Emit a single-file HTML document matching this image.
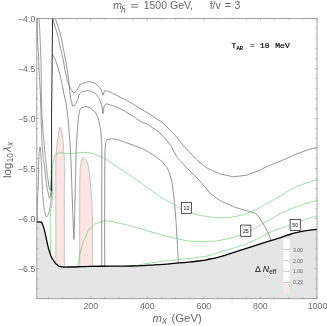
<!DOCTYPE html>
<html><head><meta charset="utf-8"><title>plot</title>
<style>html,body{margin:0;padding:0;background:#fff}body{width:327px;height:326px;overflow:hidden;font-family:"Liberation Sans",sans-serif}</style></head>
<body>
<svg width="327" height="326" viewBox="0 0 327 326" style="display:block">
<defs><filter id="gs" x="0" y="0" width="327" height="326" filterUnits="userSpaceOnUse" color-interpolation-filters="sRGB"><feColorMatrix type="saturate" values="0"/></filter></defs>
<rect width="327" height="326" fill="#fff"/>
<path d="M55.90 267.00 C55.87 244.67 55.83 232.33 55.80 200.00 C55.77 167.67 55.60 186.43 55.80 170.00 C56.00 153.57 55.53 162.27 56.40 150.70 C57.27 139.13 57.33 142.37 58.40 135.30 C59.47 128.23 58.93 132.07 59.60 129.50 C60.27 126.93 59.87 127.60 60.40 127.60 C60.93 127.60 60.57 126.93 61.20 129.50 C61.83 132.07 61.43 128.23 62.30 135.30 C63.17 142.37 63.10 139.13 63.80 150.70 C64.50 162.27 64.23 153.57 64.40 170.00 C64.57 186.43 64.33 167.60 64.30 200.00 C64.27 232.40 64.30 244.80 64.30 267.20 Z" fill="#fbe6e4" stroke="#8a7f7f" stroke-width="0.45"/>
<path d="M79.70 267.00 C79.70 244.67 79.60 230.67 79.70 200.00 C79.80 169.33 79.67 186.67 80.00 175.00 C80.33 163.33 80.03 170.17 80.70 165.00 C81.37 159.83 81.03 161.83 82.00 159.50 C82.97 157.17 82.43 158.00 83.60 158.00 C84.77 158.00 84.23 157.87 85.50 159.50 C86.77 161.13 86.17 158.73 87.40 162.90 C88.63 167.07 88.00 162.80 89.20 172.00 C90.40 181.20 90.00 177.83 91.00 190.50 C92.00 203.17 91.70 193.50 92.20 210.00 C92.70 226.50 92.37 221.13 92.50 240.00 C92.63 258.87 92.57 257.73 92.60 266.60 Z" fill="#fbe6e4" stroke="#8a7f7f" stroke-width="0.45"/>
<path d="M36.80 222.10 C38.07 222.10 38.73 221.40 40.60 222.10 C42.47 222.80 41.03 221.13 42.40 224.20 C43.77 227.27 43.00 224.63 44.70 231.30 C46.40 237.97 45.97 237.63 47.50 244.20 C49.03 250.77 48.13 247.07 49.30 251.00 C50.47 254.93 49.43 252.60 51.00 256.00 C52.57 259.40 52.00 258.33 54.00 261.20 C56.00 264.07 54.57 262.80 57.00 264.60 C59.43 266.40 56.97 265.80 61.30 266.60 C65.63 267.40 60.43 267.07 70.00 267.00 C79.57 266.93 76.67 266.67 90.00 266.40 C103.33 266.13 96.67 266.33 110.00 266.20 C123.33 266.07 115.17 266.43 130.00 266.00 C144.83 265.57 138.17 265.93 154.50 264.90 C170.83 263.87 164.27 264.20 179.00 262.90 C193.73 261.60 188.37 262.30 198.70 261.00 C209.03 259.70 203.03 260.40 210.00 259.00 C216.97 257.60 209.83 259.60 219.60 256.80 C229.37 254.00 226.20 254.73 239.30 250.60 C252.40 246.47 248.17 247.80 258.90 244.40 C269.63 241.00 264.47 242.57 271.50 240.40 C278.53 238.23 273.43 240.03 280.00 237.90 C286.57 235.77 282.87 236.33 291.20 234.00 C299.53 231.67 296.40 232.47 305.00 230.90 C313.60 229.33 313.00 229.83 317.00 229.30 L317 298.7 L36.8 298.7 Z" fill="#e5e5e5"/>
<path d="M52.90 18.50 C53.43 20.67 52.93 19.50 54.50 25.00 C56.07 30.50 55.77 28.00 57.60 35.00 C59.43 42.00 58.13 37.67 60.00 46.00 C61.87 54.33 61.20 50.33 63.20 60.00 C65.20 69.67 64.23 67.13 66.00 75.00 C67.77 82.87 66.43 78.27 68.50 83.60 C70.57 88.93 70.23 88.07 72.20 91.00 C74.17 93.93 72.57 93.03 74.40 92.40 C76.23 91.77 75.77 91.63 77.70 89.10 C79.63 86.57 77.53 86.97 80.20 84.80 C82.87 82.63 82.70 83.60 85.70 82.60 C88.70 81.60 86.77 81.80 89.20 81.80 C91.63 81.80 90.40 81.53 93.00 82.60 C95.60 83.67 94.50 82.87 97.00 85.00 C99.50 87.13 98.70 86.33 100.50 89.00 C102.30 91.67 101.57 90.90 102.40 93.00 C103.23 95.10 102.80 94.53 103.00 95.30" fill="none" stroke="#4d4d4d" stroke-width="0.62"/>
<path d="M103.00 95.30 C103.27 94.47 102.87 94.23 103.80 92.80 C104.73 91.37 103.73 91.23 105.80 91.00 C107.87 90.77 105.27 90.07 110.00 92.10 C114.73 94.13 113.33 93.70 120.00 97.10 C126.67 100.50 122.67 98.13 130.00 102.30 C137.33 106.47 133.83 104.60 142.00 109.60 C150.17 114.60 145.40 110.73 154.50 117.30 C163.60 123.87 158.67 118.77 169.30 129.30 C179.93 139.83 177.00 138.67 186.40 148.90 C195.80 159.13 192.57 155.10 197.50 160.00 C202.43 164.90 196.27 160.10 201.20 163.60 C206.13 167.10 203.70 166.57 212.30 170.50 C220.90 174.43 218.00 173.53 227.00 175.40 C236.00 177.27 230.30 177.10 239.30 176.10 C248.30 175.10 244.20 175.83 254.00 172.40 C263.80 168.97 259.57 169.70 268.70 165.80 C277.83 161.90 270.63 165.20 281.40 160.70 C292.17 156.20 289.13 156.73 301.00 152.30 C312.87 147.87 311.67 149.03 317.00 147.40" fill="none" stroke="#4d4d4d" stroke-width="0.62"/>
<path d="M55.20 18.50 C55.97 20.67 55.77 19.73 57.50 25.00 C59.23 30.27 58.63 27.30 60.40 34.30 C62.17 41.30 61.10 37.43 62.80 46.00 C64.50 54.57 63.77 50.33 65.50 60.00 C67.23 69.67 66.63 65.10 68.00 75.00 C69.37 84.90 68.43 80.70 69.60 89.70 C70.77 98.70 70.03 96.77 71.50 102.00 C72.97 107.23 71.93 106.23 74.00 105.40 C76.07 104.57 75.63 103.50 77.70 99.50 C79.77 95.50 77.53 96.23 80.20 93.40 C82.87 90.57 82.60 91.80 85.70 91.00 C88.80 90.20 86.90 90.50 89.50 91.00 C92.10 91.50 90.83 90.83 93.50 92.50 C96.17 94.17 95.17 92.83 97.50 96.00 C99.83 99.17 98.90 97.67 100.50 102.00 C102.10 106.33 101.47 105.13 102.30 109.00 C103.13 112.87 102.77 112.07 103.00 113.60" fill="none" stroke="#4d4d4d" stroke-width="0.62"/>
<path d="M103.00 113.60 C103.27 111.73 102.87 111.13 103.80 108.00 C104.73 104.87 103.73 105.20 105.80 104.20 C107.87 103.20 106.33 104.00 110.00 105.00 C113.67 106.00 110.23 104.13 116.80 107.20 C123.37 110.27 121.97 109.60 129.70 114.20 C137.43 118.80 132.53 116.60 140.00 121.00 C147.47 125.40 143.17 120.87 152.10 127.40 C161.03 133.93 158.63 130.97 166.80 140.60 C174.97 150.23 171.70 149.17 176.60 156.30 C181.50 163.43 177.40 157.43 181.50 162.00 C185.60 166.57 183.97 164.93 188.90 170.00 C193.83 175.07 190.97 171.53 196.30 177.20 C201.63 182.87 198.77 180.47 204.90 187.00 C211.03 193.53 206.53 190.87 214.70 196.80 C222.87 202.73 219.97 200.50 229.40 204.80 C238.83 209.10 235.63 207.27 243.00 209.70 C250.37 212.13 246.83 210.33 251.50 212.10 C256.17 213.87 253.73 212.13 257.00 215.00 C260.27 217.87 257.80 215.13 261.30 220.70 C264.80 226.27 264.20 225.13 267.50 231.70 C270.80 238.27 269.97 237.50 271.20 240.40" fill="none" stroke="#4d4d4d" stroke-width="0.62"/>
<path d="M52.30 54.20 C52.87 55.13 52.73 54.40 54.00 57.00 C55.27 59.60 54.17 56.17 56.10 62.00 C58.03 67.83 57.30 64.50 59.80 74.50 C62.30 84.50 61.13 79.50 63.60 92.00 C66.07 104.50 65.30 97.67 67.20 112.00 C69.10 126.33 68.23 122.33 69.30 135.00 C70.37 147.67 69.73 138.33 70.40 150.00 C71.07 161.67 70.67 153.33 71.30 170.00 C71.93 186.67 71.63 181.67 72.30 200.00 C72.97 218.33 72.77 211.90 73.30 225.00 C73.83 238.10 73.70 234.53 73.90 239.30" fill="none" stroke="#4d4d4d" stroke-width="0.62"/>
<path d="M73.90 239.30 C74.07 234.53 74.03 238.10 74.40 225.00 C74.77 211.90 74.57 218.33 75.00 200.00 C75.43 181.67 75.30 186.67 75.70 170.00 C76.10 153.33 75.77 161.67 76.20 150.00 C76.63 138.33 76.37 144.33 77.00 135.00 C77.63 125.67 77.47 128.67 78.10 122.00 C78.73 115.33 78.20 119.20 78.90 115.00 C79.60 110.80 78.77 112.00 80.20 109.40 C81.63 106.80 80.80 108.00 83.20 107.20 C85.60 106.40 84.47 106.23 87.40 107.00 C90.33 107.77 88.93 106.93 92.00 109.50 C95.07 112.07 94.17 109.87 96.60 114.70 C99.03 119.53 97.77 116.63 99.30 124.00 C100.83 131.37 100.37 124.80 101.20 136.80 C102.03 148.80 101.63 138.93 101.80 160.00 C101.97 181.07 101.73 164.60 101.70 200.00 C101.67 235.40 101.70 244.13 101.70 266.20" fill="none" stroke="#4d4d4d" stroke-width="0.62"/>
<path d="M104.70 266.20 C104.70 244.13 104.63 235.40 104.70 200.00 C104.77 164.60 104.67 178.00 104.90 160.00 C105.13 142.00 104.87 152.33 105.40 146.00 C105.93 139.67 105.30 143.23 106.50 141.00 C107.70 138.77 105.57 139.80 109.00 139.30 C112.43 138.80 110.50 138.17 116.80 139.50 C123.10 140.83 120.17 140.53 127.90 143.30 C135.63 146.07 133.57 145.13 140.00 147.80 C146.43 150.47 140.73 147.40 147.20 151.30 C153.67 155.20 153.63 155.10 159.40 159.50 C165.17 163.90 161.63 161.07 164.50 164.50 C167.37 167.93 165.90 165.30 168.00 169.80 C170.10 174.30 169.17 171.47 170.80 178.00 C172.43 184.53 171.37 177.40 172.90 189.40 C174.43 201.40 174.00 197.13 175.40 214.00 C176.80 230.87 176.13 223.67 177.10 240.00 C178.07 256.33 177.90 255.33 178.30 263.00" fill="none" stroke="#4d4d4d" stroke-width="0.62"/>
<path d="M39.10 18.40 C39.53 27.60 39.70 27.47 40.40 46.00 C41.10 64.53 40.83 56.00 41.20 74.00 C41.57 92.00 41.03 83.00 41.50 100.00 C41.97 117.00 41.53 108.33 42.60 125.00 C43.67 141.67 43.47 136.67 44.70 150.00 C45.93 163.33 45.27 155.67 46.30 165.00 C47.33 174.33 46.60 169.80 47.80 178.00 C49.00 186.20 48.83 187.93 49.90 189.60 C50.97 191.27 50.53 189.53 51.00 183.00 C51.47 176.47 51.20 174.33 51.30 170.00" fill="none" stroke="#555" stroke-width="0.6"/>
<path d="M37.30 18.40 C37.37 25.60 37.20 29.47 37.50 40.00 C37.80 50.53 37.83 44.67 38.20 50.00 C38.57 55.33 38.33 49.33 38.60 56.00 C38.87 62.67 38.53 60.00 39.00 70.00 C39.47 80.00 39.47 76.00 40.00 86.00 C40.53 96.00 40.17 87.00 40.60 100.00 C41.03 113.00 40.67 108.33 41.30 125.00 C41.93 141.67 41.50 136.67 42.50 150.00 C43.50 163.33 43.13 155.00 44.30 165.00 C45.47 175.00 44.77 171.00 46.00 180.00 C47.23 189.00 46.73 186.17 48.00 192.00 C49.27 197.83 48.80 198.17 49.80 197.50 C50.80 196.83 50.47 196.50 51.00 190.00 C51.53 183.50 51.27 182.00 51.40 178.00" fill="none" stroke="#555" stroke-width="0.6"/>
<path d="M37.30 222.00 C37.37 214.67 37.17 212.67 37.50 200.00 C37.83 187.33 37.87 197.33 38.30 184.00 C38.73 170.67 38.37 171.33 38.80 160.00 C39.23 148.67 39.17 154.27 39.60 150.00 C40.03 145.73 39.80 147.20 40.10 147.20 C40.40 147.20 40.23 147.07 40.50 150.00 C40.77 152.93 40.57 151.00 40.90 156.00 C41.23 161.00 41.10 157.00 41.50 165.00 C41.90 173.00 41.57 168.67 42.10 180.00 C42.63 191.33 42.13 188.23 43.10 199.00 C44.07 209.77 43.70 206.57 45.00 212.30 C46.30 218.03 45.50 216.97 47.00 216.20 C48.50 215.43 48.10 216.17 49.50 210.00 C50.90 203.83 50.50 206.03 51.20 197.70 C51.90 189.37 51.47 189.23 51.60 185.00" fill="none" stroke="#555" stroke-width="0.6"/>
<path d="M50.80 255.50 C50.70 253.00 50.67 256.50 50.50 248.00 C50.33 239.50 50.30 241.33 50.30 230.00 C50.30 218.67 49.83 224.33 50.50 214.00 C51.17 203.67 51.73 210.33 52.30 199.00 C52.87 187.67 52.20 189.60 52.20 180.00 C52.20 170.40 52.07 175.60 52.30 170.20 C52.53 164.80 52.20 168.00 52.90 163.80 C53.60 159.60 53.03 160.83 54.40 157.60 C55.77 154.37 54.90 155.67 57.00 154.10 C59.10 152.53 57.40 153.10 60.70 152.90 C64.00 152.70 62.30 153.37 66.90 153.50 C71.50 153.63 68.90 153.67 74.50 153.30 C80.10 152.93 77.57 152.23 83.70 152.40 C89.83 152.57 87.47 152.40 92.90 153.80 C98.33 155.20 95.70 154.80 100.00 156.60 C104.30 158.40 98.33 154.63 105.80 159.20 C113.27 163.77 111.00 162.63 122.40 170.30 C133.80 177.97 130.93 175.83 140.00 182.20 C149.07 188.57 138.20 181.83 149.60 189.40 C161.00 196.97 160.30 197.10 174.20 204.90 C188.10 212.70 179.37 208.80 191.30 212.80 C203.23 216.80 200.57 215.27 210.00 216.90 C219.43 218.53 211.47 217.83 219.60 217.70 C227.73 217.57 223.77 218.53 234.40 216.50 C245.03 214.47 240.87 215.87 251.50 211.60 C262.13 207.33 256.80 208.83 266.30 203.70 C275.80 198.57 271.70 200.97 280.00 196.20 C288.30 191.43 282.87 193.63 291.20 189.40 C299.53 185.17 296.30 186.70 305.00 183.50 C313.70 180.30 313.20 181.03 317.30 179.80" fill="none" stroke="#45c545" stroke-width="0.55"/>
<path d="M77.60 266.80 C78.00 264.53 78.00 264.47 78.80 260.00 C79.60 255.53 77.77 261.13 80.00 253.40 C82.23 245.67 81.50 245.70 85.50 236.80 C89.50 227.90 87.07 231.53 92.00 226.70 C96.93 221.87 95.10 224.13 100.30 222.30 C105.50 220.47 100.23 220.67 107.60 221.20 C114.97 221.73 111.60 221.47 122.40 223.90 C133.20 226.33 129.30 225.53 140.00 228.50 C150.70 231.47 142.30 229.43 154.50 232.80 C166.70 236.17 163.50 235.77 176.60 238.60 C189.70 241.43 182.67 240.43 193.80 241.30 C204.93 242.17 201.40 241.53 210.00 241.20 C218.60 240.87 209.83 242.23 219.60 240.30 C229.37 238.37 228.23 239.07 239.30 235.40 C250.37 231.73 243.80 233.90 252.80 229.30 C261.80 224.70 255.13 227.73 266.30 221.60 C277.47 215.47 273.10 216.93 286.30 210.90 C299.50 204.87 295.57 206.93 305.90 203.50 C316.23 200.07 313.50 201.57 317.30 200.60" fill="none" stroke="#45c545" stroke-width="0.55"/>
<path d="M132.00 266.00 C133.80 265.73 129.90 266.40 137.40 265.20 C144.90 264.00 140.63 264.30 154.50 262.40 C168.37 260.50 164.27 261.20 179.00 259.50 C193.73 257.80 188.37 258.70 198.70 257.30 C209.03 255.90 203.03 257.03 210.00 255.30 C216.97 253.57 209.83 255.13 219.60 252.10 C229.37 249.07 227.03 250.47 239.30 246.20 C251.57 241.93 245.77 244.10 256.40 239.30 C267.03 234.50 260.43 236.37 271.20 231.80 C281.97 227.23 278.37 229.30 288.70 225.60 C299.03 221.90 292.67 223.97 302.20 220.70 C311.73 217.43 312.27 217.43 317.30 215.80" fill="none" stroke="#45c545" stroke-width="0.55"/>
<path d="M52.6 18.4 L51.6 110 L51.6 191" fill="none" stroke="#222" stroke-width="0.95"/>
<path d="M36.80 222.10 C38.07 222.10 38.73 221.40 40.60 222.10 C42.47 222.80 41.03 221.13 42.40 224.20 C43.77 227.27 43.00 224.63 44.70 231.30 C46.40 237.97 45.97 237.63 47.50 244.20 C49.03 250.77 48.13 247.07 49.30 251.00 C50.47 254.93 49.43 252.60 51.00 256.00 C52.57 259.40 52.00 258.33 54.00 261.20 C56.00 264.07 54.57 262.80 57.00 264.60 C59.43 266.40 56.97 265.80 61.30 266.60 C65.63 267.40 60.43 267.07 70.00 267.00 C79.57 266.93 76.67 266.67 90.00 266.40 C103.33 266.13 96.67 266.33 110.00 266.20 C123.33 266.07 115.17 266.43 130.00 266.00 C144.83 265.57 138.17 265.93 154.50 264.90 C170.83 263.87 164.27 264.20 179.00 262.90 C193.73 261.60 188.37 262.30 198.70 261.00 C209.03 259.70 203.03 260.40 210.00 259.00 C216.97 257.60 209.83 259.60 219.60 256.80 C229.37 254.00 226.20 254.73 239.30 250.60 C252.40 246.47 248.17 247.80 258.90 244.40 C269.63 241.00 264.47 242.57 271.50 240.40 C278.53 238.23 273.43 240.03 280.00 237.90 C286.57 235.77 282.87 236.33 291.20 234.00 C299.53 231.67 296.40 232.47 305.00 230.90 C313.60 229.33 313.00 229.83 317.00 229.30" fill="none" stroke="#000" stroke-width="1.3" stroke-linejoin="round"/>
<rect x="36.80" y="18.40" width="280.20" height="280.30" fill="none" stroke="#8c8c8c" stroke-width="0.8"/>
<path d="M48.31 298.70v-1.40 M48.31 18.40v1.40 M62.45 298.70v-1.40 M62.45 18.40v1.40 M76.60 298.70v-1.40 M76.60 18.40v1.40 M90.74 298.70v-2.40 M90.74 18.40v2.40 M104.88 298.70v-1.40 M104.88 18.40v1.40 M119.02 298.70v-1.40 M119.02 18.40v1.40 M133.16 298.70v-1.40 M133.16 18.40v1.40 M147.30 298.70v-2.40 M147.30 18.40v2.40 M161.44 298.70v-1.40 M161.44 18.40v1.40 M175.59 298.70v-1.40 M175.59 18.40v1.40 M189.73 298.70v-1.40 M189.73 18.40v1.40 M203.87 298.70v-2.40 M203.87 18.40v2.40 M218.01 298.70v-1.40 M218.01 18.40v1.40 M232.15 298.70v-1.40 M232.15 18.40v1.40 M246.29 298.70v-1.40 M246.29 18.40v1.40 M260.43 298.70v-2.40 M260.43 18.40v2.40 M274.58 298.70v-1.40 M274.58 18.40v1.40 M288.72 298.70v-1.40 M288.72 18.40v1.40 M302.86 298.70v-1.40 M302.86 18.40v1.40 M317.00 298.70v-2.40 M317.00 18.40v2.40 M36.80 18.40h2.40 M317.00 18.40h-2.40 M36.80 28.41h1.40 M317.00 28.41h-1.40 M36.80 38.42h1.40 M317.00 38.42h-1.40 M36.80 48.43h1.40 M317.00 48.43h-1.40 M36.80 58.44h1.40 M317.00 58.44h-1.40 M36.80 68.45h2.40 M317.00 68.45h-2.40 M36.80 78.46h1.40 M317.00 78.46h-1.40 M36.80 88.48h1.40 M317.00 88.48h-1.40 M36.80 98.49h1.40 M317.00 98.49h-1.40 M36.80 108.50h1.40 M317.00 108.50h-1.40 M36.80 118.51h2.40 M317.00 118.51h-2.40 M36.80 128.52h1.40 M317.00 128.52h-1.40 M36.80 138.53h1.40 M317.00 138.53h-1.40 M36.80 148.54h1.40 M317.00 148.54h-1.40 M36.80 158.55h1.40 M317.00 158.55h-1.40 M36.80 168.56h2.40 M317.00 168.56h-2.40 M36.80 178.57h1.40 M317.00 178.57h-1.40 M36.80 188.58h1.40 M317.00 188.58h-1.40 M36.80 198.59h1.40 M317.00 198.59h-1.40 M36.80 208.60h1.40 M317.00 208.60h-1.40 M36.80 218.61h2.40 M317.00 218.61h-2.40 M36.80 228.62h1.40 M317.00 228.62h-1.40 M36.80 238.64h1.40 M317.00 238.64h-1.40 M36.80 248.65h1.40 M317.00 248.65h-1.40 M36.80 258.66h1.40 M317.00 258.66h-1.40 M36.80 268.67h2.40 M317.00 268.67h-2.40 M36.80 278.68h1.40 M317.00 278.68h-1.40 M36.80 288.69h1.40 M317.00 288.69h-1.40" fill="none" stroke="#8c8c8c" stroke-width="0.6"/>
<rect x="283.4" y="239.0" width="6.1" height="43.2" fill="#fff"/>
<rect x="283.4" y="282.2" width="6.1" height="11.1" fill="#fbe6e4"/>
<path d="M283.4 249.6h6.3M283.4 260.8h6.3M283.4 271.3h6.3M283.4 282.2h6.3" stroke="#a8a8a8" stroke-width="0.6"/>
<g filter="url(#gs)">
<g font-family="Liberation Sans, sans-serif" font-size="8.8" fill="#6a6a6a">
<text x="90.74" y="308.7" text-anchor="middle">200</text>
<text x="147.30" y="308.7" text-anchor="middle">400</text>
<text x="203.87" y="308.7" text-anchor="middle">600</text>
<text x="260.43" y="308.7" text-anchor="middle">800</text>
<text x="317.50" y="308.7" text-anchor="middle">1000</text>
<text x="35.3" y="21.90" text-anchor="end">−4.0</text>
<text x="35.3" y="71.95" text-anchor="end">−4.5</text>
<text x="35.3" y="122.01" text-anchor="end">−5.0</text>
<text x="35.3" y="172.06" text-anchor="end">−5.5</text>
<text x="35.3" y="222.11" text-anchor="end">−6.0</text>
<text x="35.3" y="272.17" text-anchor="end">−6.5</text>
</g>
<g font-family="Liberation Sans, sans-serif" fill="#666">
<text x="113.2" y="8.8" font-size="10.6"><tspan font-style="italic">m</tspan></text>
<text x="121.0" y="13.1" font-size="8.2" font-style="italic">h</text>
<path d="M122.3 6.3 L124.2 4.9 L125.9 6.3" fill="none" stroke="#777" stroke-width="0.5"/>
<path d="M130.9 4.7h7.1M130.9 7.15h7.1" fill="none" stroke="#666" stroke-width="0.85"/>
<text x="143.7" y="8.8" font-size="10.5">1500</text>
<text x="170.0" y="8.8" font-size="10.5">GeV,</text>
<text x="209.7" y="8.8" font-size="10.5">f/v</text>
<text x="224.8" y="8.8" font-size="10.5">=</text>
<text x="234.6" y="8.8" font-size="10.5">3</text>
<text x="152.4" y="321.8" font-size="11.2" font-style="italic">m</text>
<text x="161.6" y="323.6" font-size="8.4" font-style="italic">X</text>
<text x="171.4" y="321.8" font-size="11.4">(GeV)</text>
<g transform="translate(11.4 178.0) rotate(-90)">
<text x="0" y="0" font-size="11.5">log</text>
<text x="15.7" y="1.9" font-size="8.2">10</text>
<text x="25.9" y="0" font-size="11.5" font-style="italic">λ</text>
<text x="32.0" y="1.9" font-size="8.2" font-style="italic">x</text>
</g>
</g>
<g font-family="Liberation Mono, monospace" fill="#000" stroke="#000" stroke-width="0.18">
<text x="231.6" y="48.4" font-size="8">T</text>
<text x="236.5" y="49.8" font-size="5.6">AR</text>
<text x="250.1" y="48.4" font-size="8">=</text>
<text x="260" y="48.4" font-size="8">10</text>
<text x="275.3" y="48.4" font-size="8">MeV</text>
</g>
<rect x="181.30" y="202.30" width="10.2" height="11.2" fill="#fff" stroke="#111" stroke-width="0.7"/>
<text x="186.40" y="209.80" font-family="Liberation Sans, sans-serif" font-size="5.2" text-anchor="middle" fill="#111">10</text>
<rect x="240.70" y="225.10" width="10.2" height="11.2" fill="#fff" stroke="#111" stroke-width="0.7"/>
<text x="245.80" y="232.60" font-family="Liberation Sans, sans-serif" font-size="5.2" text-anchor="middle" fill="#111">25</text>
<rect x="290.10" y="219.40" width="10.2" height="11.2" fill="#fff" stroke="#111" stroke-width="0.7"/>
<text x="295.20" y="226.90" font-family="Liberation Sans, sans-serif" font-size="5.2" text-anchor="middle" fill="#111">50</text>
<g font-family="Liberation Sans, sans-serif" font-size="5.2" fill="#666">
<text x="292.9" y="251.50">3.00</text>
<text x="292.9" y="262.70">2.00</text>
<text x="292.9" y="273.20">1.00</text>
<text x="292.9" y="284.10">0.23</text>
</g>
<g font-family="Liberation Sans, sans-serif" fill="#111">
<text x="255" y="271.8" font-size="8.8">Δ</text>
<text x="262.7" y="271.8" font-size="8.8" font-style="italic">N</text>
<text x="269.3" y="273.8" font-size="6.3">eff</text>
</g>
</g>
</svg>
</body></html>
